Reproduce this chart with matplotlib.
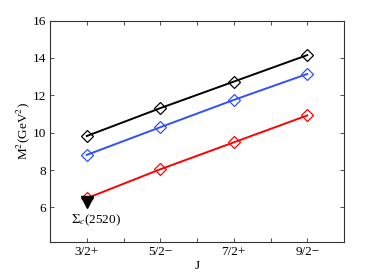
import matplotlib
matplotlib.use("Agg")
import matplotlib.pyplot as plt

# data
j_labels = ["3/2+", "5/2\u2212", "7/2+", "9/2\u2212"]
j_pos = [1, 2, 3, 4]
m2_black = [9.82, 11.31, 12.73, 14.15]
m2_blue = [8.81, 10.29, 11.75, 13.14]
m2_red = [6.49, 8.04, 9.48, 10.92]
exp_j = [1]
exp_m2 = [6.30]
exp_label = r"$\Sigma_c$(2520)"

plt.rcParams["font.family"] = "Liberation Serif"
plt.rcParams["mathtext.fontset"] = "stix"
plt.rcParams["font.size"] = 9.5

fig = plt.figure(figsize=(3.82, 2.73), dpi=100)
ax = fig.add_axes([50 / 382, 1 - 242 / 273, 294 / 382, 221.5 / 273])

ax.plot(j_pos, m2_black, color="black", lw=1.4, marker="D", ms=6.5,
        mfc="none", mec="black", mew=0.9)
ax.plot(j_pos, m2_blue, color="#3050ff", lw=1.4, marker="D", ms=6.5,
        mfc="none", mec="#3050ff", mew=0.9)
ax.plot(j_pos, m2_red, color="red", lw=1.4, marker="D", ms=6.5,
        mfc="none", mec="red", mew=0.9)
ax.plot(exp_j, exp_m2, ls="none", marker="v", ms=8.5, color="black")
ax.text(1.13, 5.3, exp_label, ha="center", va="center")

ax.set_xlim(0.5, 4.5)
ax.set_ylim(4.15, 16)
ax.set_xticks(j_pos)
ax.set_xticklabels(j_labels)
ax.set_xticks([1.5, 2.5, 3.5], minor=True)
ax.set_yticks([6, 8, 10, 12, 14, 16])
ax.tick_params(which="both", direction="in", top=True, right=True,
               length=3, width=0.6, color="#333333", pad=3)
for s in ax.spines.values():
    s.set_linewidth(0.8)
    s.set_color("#333333")

ax.set_xlabel("J", labelpad=1)
ax.set_ylabel(r"M$^2$(GeV$^2$)", labelpad=0)

fig.savefig("out.png", dpi=100)
plt.close(fig)
